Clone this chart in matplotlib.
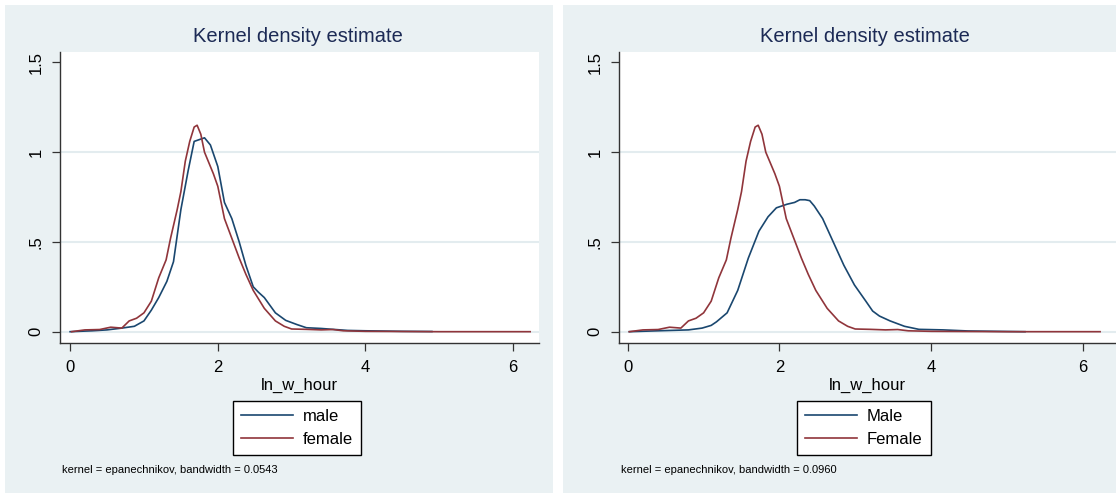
import matplotlib
matplotlib.use("Agg")
from matplotlib import pyplot as plt
from matplotlib.patches import Rectangle

plt.rcParams['font.family'] = ['Liberation Sans Narrow', 'Liberation Sans', 'DejaVu Sans']

# density curves
female_x = [0.02, 0.2, 0.4, 0.55, 0.7, 0.8, 0.9, 1.0, 1.1, 1.2, 1.3, 1.36, 1.45, 1.5, 1.56, 1.62,
            1.68, 1.72, 1.77, 1.82, 1.87, 1.94, 2.0, 2.09, 2.19, 2.29, 2.38, 2.48, 2.63, 2.78,
            2.9, 3.0, 3.2, 3.4, 3.56, 3.7, 3.8, 4.0, 4.5, 5.0, 6.23]
female_y = [0.0, 0.01, 0.012, 0.025, 0.02, 0.06, 0.075, 0.105, 0.17, 0.3, 0.4, 0.52, 0.68, 0.78,
            0.95, 1.06, 1.14, 1.15, 1.1, 1.0, 0.95, 0.88, 0.81, 0.63, 0.52, 0.41, 0.32, 0.23,
            0.13, 0.06, 0.03, 0.015, 0.013, 0.01, 0.012, 0.005, 0.004, 0.002, 0.001, 0.0, 0.0]

male_left_x = [0.0, 0.3, 0.5, 0.7, 0.87, 1.0, 1.1, 1.2, 1.31, 1.4, 1.5, 1.6, 1.68, 1.75, 1.82,
               1.9, 2.0, 2.09, 2.19, 2.29, 2.38, 2.48, 2.55, 2.63, 2.78, 2.92, 3.07, 3.2, 3.4,
               3.56, 3.76, 4.0, 4.5, 4.9]
male_left_y = [0.0, 0.005, 0.01, 0.02, 0.03, 0.06, 0.12, 0.19, 0.28, 0.39, 0.68, 0.9, 1.06,
               1.07, 1.08, 1.04, 0.92, 0.72, 0.63, 0.5, 0.37, 0.25, 0.22, 0.19, 0.105, 0.063,
               0.04, 0.022, 0.018, 0.013, 0.007, 0.005, 0.002, 0.001]

male_right_x = [0.02, 0.4, 0.8, 0.98, 1.1, 1.17, 1.31, 1.45, 1.59, 1.73, 1.85, 1.96, 2.1, 2.2,
                2.27, 2.34, 2.4, 2.46, 2.57, 2.71, 2.85, 2.99, 3.14, 3.23, 3.32, 3.46, 3.65,
                3.84, 4.16, 4.49, 5.24]
male_right_y = [0.0, 0.005, 0.01, 0.02, 0.035, 0.055, 0.105, 0.23, 0.41, 0.56, 0.64, 0.69,
                0.71, 0.72, 0.735, 0.735, 0.73, 0.70, 0.63, 0.5, 0.37, 0.26, 0.17, 0.115,
                0.087, 0.06, 0.03, 0.013, 0.01, 0.004, 0.0]

y_ticks = [0, 0.5, 1, 1.5]
y_labels = ['0', '.5', '1', '1.5']
x_ticks = [0, 2, 4, 6]

NAVY = '#1A476F'
MAROON = '#90353B'
BG = '#EAF1F3'

W, H = 1116, 497
fig = plt.figure(figsize=(W / 100, H / 100), dpi=100)


def px(x0, y0, x1, y1):
    # pixel box (top-left origin) -> figure fraction [l, b, w, h]
    return [x0 / W, 1 - y1 / H, (x1 - x0) / W, (y1 - y0) / H]


def panel(bg_box, ax_box, xlim, title_x, curves, labels, bw, leg_x, note_x):
    l, b, w, h = px(*bg_box)
    fig.add_artist(Rectangle((l, b), w, h, transform=fig.transFigure,
                             facecolor=BG, edgecolor='none', zorder=0))
    ax = fig.add_axes(px(*ax_box))
    ax.set_facecolor('white')
    ax.set_xlim(*xlim)
    ax.set_ylim(-0.063, 1.558)
    for yv in [0, 0.5, 1]:
        ax.axhline(yv, color='#E3ECEF', lw=1.5, zorder=1)
    for (xs, ys), col, lab in zip(curves, [NAVY, MAROON], labels):
        ax.plot(xs, ys, color=col, lw=1.2, label=lab, zorder=3)
    for s in ['top', 'right']:
        ax.spines[s].set_visible(False)
    for s in ['left', 'bottom']:
        ax.spines[s].set_color('#333333')
        ax.spines[s].set_linewidth(1.0)
    ax.set_yticks(y_ticks)
    ax.set_yticklabels(y_labels, rotation=90, va='center')
    ax.set_xticks(x_ticks)
    ax.tick_params(length=6, width=0.9, color='#333333', labelsize=12, pad=6)
    ax.set_xlabel('ln_w_hour', fontsize=12, labelpad=2)
    fig.text(title_x / W, 1 - 37 / H, 'Kernel density estimate', ha='center', va='center',
             fontsize=14.5, color='#1C2A55')
    leg = ax.legend(loc='center', bbox_to_anchor=(leg_x / W, 1 - 428 / H),
                    bbox_transform=fig.transFigure, fancybox=False, framealpha=1,
                    edgecolor='black', fontsize=12, handlelength=3.1, handletextpad=0.6,
                    borderpad=0.5, labelspacing=0.45)
    leg.get_frame().set_linewidth(1.0)
    fig.text(note_x / W, 1 - 470 / H, 'kernel = epanechnikov, bandwidth = ' + bw,
             ha='left', va='center', fontsize=8)
    return ax


panel((5, 5, 553, 493), (60, 52, 539, 343), (-0.137, 6.35), 298,
      [(male_left_x, male_left_y), (female_x, female_y)], ['male', 'female'], '0.0543',
      297, 62)
panel((563, 5, 1116, 493), (619, 52, 1116, 343), (-0.116, 6.44), 865,
      [(male_right_x, male_right_y), (female_x, female_y)], ['Male', 'Female'], '0.0960',
      864, 621)

fig.savefig('out.png', dpi=100, facecolor='white')
